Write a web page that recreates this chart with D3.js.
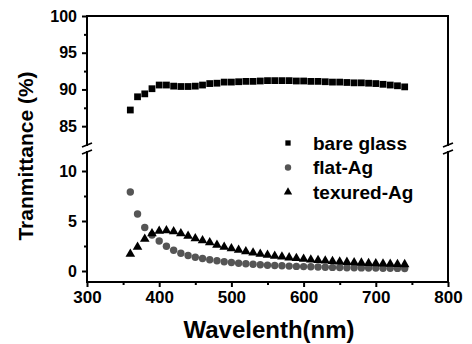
<!DOCTYPE html>
<html lang="en">
<head>
  <meta charset="UTF-8">
  <title>Transmittance</title>
  <style>
    body { margin: 0; background: #fff; font-family: "Liberation Sans", Arial, sans-serif; }
    text { font-weight: bold; }
  </style>
  <script src="https://cdn.jsdelivr.net/npm/d3@7"></script>
</head>
<body>
<script>
  var wavelengths = d3.range(360, 741, 10);
  var bareGlass = [87.2, 89.0, 89.4, 90.1, 90.6, 90.6, 90.45, 90.4, 90.4, 90.45,
    90.6, 90.8, 90.85, 91.0, 91.0, 91.05, 91.1, 91.1, 91.15, 91.2,
    91.2, 91.2, 91.2, 91.15, 91.15, 91.1, 91.1, 91.05, 91.0, 91.0,
    90.95, 90.9, 90.9, 90.85, 90.8, 90.7, 90.6, 90.5, 90.35];
  var flatAg = [7.9, 5.7, 4.35, 3.6, 3.0, 2.47, 2.07, 1.77, 1.55, 1.38,
    1.25, 1.13, 1.03, 0.93, 0.85, 0.78, 0.72, 0.67, 0.62, 0.58,
    0.55, 0.52, 0.49, 0.46, 0.44, 0.42, 0.40, 0.38, 0.36, 0.35,
    0.33, 0.32, 0.31, 0.30, 0.29, 0.28, 0.27, 0.26, 0.25];
  var texturedAg = [1.7, 2.4, 3.2, 3.75, 4.0, 4.05, 3.95, 3.75, 3.5, 3.25,
    3.05, 2.85, 2.6, 2.4, 2.25, 2.1, 1.95, 1.83, 1.7, 1.6,
    1.5, 1.42, 1.34, 1.27, 1.2, 1.13, 1.07, 1.02, 0.97, 0.93,
    0.89, 0.85, 0.81, 0.78, 0.75, 0.72, 0.7, 0.68, 0.66];
  var xTicks = [300, 400, 500, 600, 700, 800];
  var upperTicks = [85, 90, 95, 100];
  var lowerTicks = [0, 5, 10];
  var legendNames = ["bare glass", "flat-Ag", "texured-Ag"];

  var W = 472, H = 344;
  var plotL = 87, plotR = 448, plotT = 16, plotB = 282;
  var upperBottom = 146, lowerTop = 151;

  var svg = d3.select("body").append("svg").attr("width", W).attr("height", H);

  var x = d3.scaleLinear().domain([300, 800]).range([plotL, plotR]);
  var yUp = d3.scaleLinear().domain([82.3, 100]).range([upperBottom, plotT]);
  var yLow = d3.scaleLinear().domain([-1.1, 11.9]).range([plotB, lowerTop + 1]);

  function styleAxis(g) {
    g.select(".domain").remove();
    g.selectAll(".tick line").attr("stroke", "#000").attr("stroke-width", 2);
    g.selectAll(".tick text").attr("fill", "#000")
      .style("font-family", "'Liberation Sans', Arial, sans-serif").style("font-weight", "bold");
  }

  // x axis
  svg.append("g").attr("transform", "translate(0," + plotB + ")")
    .call(d3.axisBottom(x).tickValues(xTicks).tickSize(5).tickPadding(4).tickFormat(d3.format("d")))
    .call(styleAxis)
    .call(function(g) { g.selectAll(".tick text").style("font-size", "17px"); });
  svg.append("g").attr("transform", "translate(0," + plotB + ")")
    .call(d3.axisBottom(x).tickValues([350, 450, 550, 650, 750]).tickSize(3).tickFormat(""))
    .call(styleAxis);

  // y axes
  svg.append("g").attr("transform", "translate(" + plotL + ",0)")
    .call(d3.axisLeft(yUp).tickValues(upperTicks).tickSize(5).tickPadding(5))
    .call(styleAxis)
    .call(function(g) { g.selectAll(".tick text").style("font-size", "16px"); });
  svg.append("g").attr("transform", "translate(" + plotL + ",0)")
    .call(d3.axisLeft(yUp).tickValues([87.5, 92.5, 97.5]).tickSize(3).tickFormat(""))
    .call(styleAxis);
  svg.append("g").attr("transform", "translate(" + plotL + ",0)")
    .call(d3.axisLeft(yLow).tickValues(lowerTicks).tickSize(5).tickPadding(5))
    .call(styleAxis)
    .call(function(g) { g.selectAll(".tick text").style("font-size", "16px"); });
  svg.append("g").attr("transform", "translate(" + plotL + ",0)")
    .call(d3.axisLeft(yLow).tickValues([2.5, 7.5]).tickSize(3).tickFormat(""))
    .call(styleAxis);

  // frame with axis breaks
  var frame = svg.append("g").attr("fill", "none").attr("stroke", "#000").attr("stroke-width", 2);
  frame.append("path").attr("d",
    "M" + plotL + "," + upperBottom + "V" + plotT + "H" + plotR + "V" + upperBottom);
  frame.append("path").attr("d",
    "M" + plotL + "," + lowerTop + "V" + plotB + "H" + plotR + "V" + lowerTop);
  [plotL, plotR].forEach(function(cx) {
    [upperBottom - 1, lowerTop + 1].forEach(function(cy) {
      frame.append("line").attr("x1", cx - 5).attr("y1", cy + 2)
        .attr("x2", cx + 5).attr("y2", cy - 2).attr("stroke-width", 1.8);
    });
  });

  // series
  var square = d3.symbol().type(d3.symbolSquare).size(46);
  var tri = d3.symbol().type(d3.symbolTriangle).size(40);

  svg.append("g").selectAll("path").data(wavelengths).enter().append("path")
    .attr("d", square)
    .attr("transform", function(d, i) { return "translate(" + x(d) + "," + yUp(bareGlass[i]) + ")"; })
    .attr("fill", "#000");

  svg.append("g").selectAll("circle").data(wavelengths).enter().append("circle")
    .attr("cx", function(d) { return x(d); })
    .attr("cy", function(d, i) { return yLow(flatAg[i]); })
    .attr("r", 3.7)
    .attr("fill", "#555");

  svg.append("g").selectAll("path").data(wavelengths).enter().append("path")
    .attr("d", tri)
    .attr("transform", function(d, i) { return "translate(" + x(d) + "," + yLow(texturedAg[i]) + ")"; })
    .attr("fill", "#000");

  // legend
  var legend = svg.append("g").attr("transform", "translate(288,143)");
  legendNames.forEach(function(name, i) {
    var row = legend.append("g").attr("transform", "translate(0," + (i * 24.5) + ")");
    if (i === 0) row.append("path").attr("d", d3.symbol().type(d3.symbolSquare).size(28)).attr("fill", "#000");
    if (i === 1) row.append("circle").attr("r", 3.2).attr("fill", "#555");
    if (i === 2) row.append("path").attr("d", d3.symbol().type(d3.symbolTriangle).size(30)).attr("fill", "#000");
    row.append("text").attr("x", 25).attr("dy", "0.35em").style("font-size", "19px").text(name);
  });

  // titles
  svg.append("text").attr("x", 269).attr("y", 338).attr("text-anchor", "middle")
    .style("font-size", "24px").text("Wavelenth(nm)");
  svg.append("text").attr("transform", "translate(33,156) rotate(-90)").attr("text-anchor", "middle")
    .style("font-size", "21px").text("Tranmittance (%)");
</script>
</body>
</html>
